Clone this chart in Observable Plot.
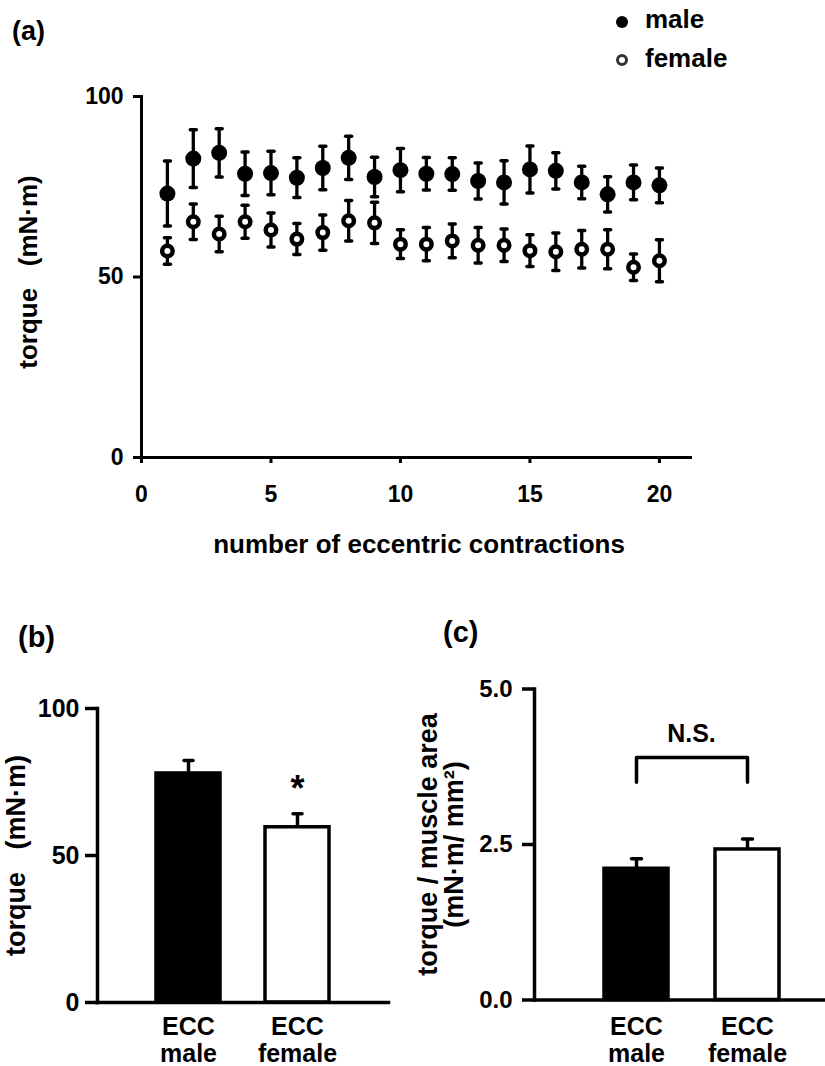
<!DOCTYPE html>
<html>
<head>
<meta charset="utf-8">
<script src="https://cdn.jsdelivr.net/npm/d3@7"></script>
<script src="https://cdn.jsdelivr.net/npm/@observablehq/plot@0.6"></script>
<style>
html, body { margin: 0; padding: 0; background: #fff; }
#root { position: relative; width: 825px; height: 1066px; overflow: hidden;
  font-family: "Liberation Sans", Arial, sans-serif; font-weight: bold; color: #000; }
.panel { position: absolute; }
.panel svg text { font-family: "Liberation Sans", Arial, sans-serif !important; font-weight: bold !important; }
.pa g[aria-label$="tick label"] { font-size: 23px !important; }
.pb g[aria-label$="tick label"] { font-size: 25px !important; }
.pc g[aria-label$="tick label"] { font-size: 24px !important; }
.pc g[aria-label="x-axis tick label"] { font-size: 25px !important; }
.plabel { position: absolute; line-height: 1; white-space: nowrap; }
.legtext { position: absolute; left: 645px; font-size: 26px; line-height: 1; }
.sw { position: absolute; box-sizing: border-box; width: 12px; height: 12px; border-radius: 50%; left: 616px; }
</style>
</head>
<body>
<div id="root">
  <div class="plabel" style="left:12px; top:18px; font-size:27px;">(a)</div>
  <div class="plabel" style="left:18px; top:623px; font-size:29px;">(b)</div>
  <div class="plabel" style="left:443px; top:618px; font-size:29px;">(c)</div>
  <div class="sw" style="top:16px; background:#000;"></div>
  <div class="legtext" style="top:6px;">male</div>
  <div class="sw" style="top:54px; border:3.5px solid #333; background:#fff;"></div>
  <div class="legtext" style="top:45px;">female</div>
</div>
<script>
// ---------- Panel (a): torque over repeated eccentric contractions ----------
const contractions = [1, 2, 3, 4, 5, 6, 7, 8, 9, 10, 11, 12, 13, 14, 15, 16, 17, 18, 19, 20];
const maleMean   = [73.1, 82.8, 84.4, 78.6, 78.8, 77.5, 80.2, 83.0, 77.7, 79.6, 78.6, 78.5, 76.6, 76.2, 79.8, 79.4, 76.2, 72.9, 76.2, 75.4];
const maleSem    = [9.0, 8.0, 6.7, 6.0, 6.0, 5.5, 6.0, 6.0, 5.5, 6.0, 4.5, 4.5, 5.0, 6.0, 6.5, 5.0, 4.5, 4.9, 4.8, 4.8];
const femaleMean = [57.2, 65.3, 61.9, 65.3, 63.0, 60.5, 62.3, 65.6, 65.0, 59.1, 59.1, 60.0, 58.8, 58.8, 57.3, 57.0, 57.7, 57.7, 52.7, 54.5];
const femaleSem  = [3.7, 4.9, 4.9, 4.6, 4.7, 4.3, 4.9, 5.6, 5.7, 4.0, 4.6, 4.7, 4.9, 4.5, 4.4, 5.2, 5.2, 5.4, 3.7, 5.8];
const xTicksA = [0, 5, 10, 15, 20];
const yTicksA = [0, 50, 100];

// ---------- Panel (b): torque ----------
const groups = ["ECC male", "ECC female"];
const torqueMean = [77.9, 59.6];
const torqueSem  = [4.4, 4.6];
const torqueSig  = ["", "*"];
const yTicksB = [0, 50, 100];

// ---------- Panel (c): torque / muscle area ----------
const areaMean = [2.11, 2.42];
const areaSem  = [0.16, 0.17];
const yTicksC = [0, 2.5, 5];
const nsLabel = "N.S.";
const nsBracketTop = 3.9;
const nsBracketLeg = 3.5;

const barColors = ["black", "white"];

const baseStyle = {
  fontFamily: "'Liberation Sans', Arial, sans-serif",
  fontWeight: "bold",
  color: "black",
  background: "transparent",
  overflow: "visible"
};

// horizontal cap used for error bars
const capSymbol = {
  draw(context, size) {
    const r = Math.sqrt(size / Math.PI);
    context.moveTo(-r, 0);
    context.lineTo(r, 0);
  }
};

const male = contractions.map((n, i) => ({n, mean: maleMean[i], sem: maleSem[i]}));
const female = contractions.map((n, i) => ({n, mean: femaleMean[i], sem: femaleSem[i]}));
const both = male.concat(female);

const plotA = Plot.plot({
  width: 825, height: 570,
  marginLeft: 141, marginRight: 135, marginTop: 96, marginBottom: 113,
  style: {...baseStyle, fontSize: "23px"},
  x: {domain: [0, 21.2]},
  y: {domain: [0, 100]},
  marks: [
    Plot.frame({anchor: "left", strokeWidth: 3}),
    Plot.frame({anchor: "bottom", strokeWidth: 3}),
    Plot.axisY({ticks: yTicksA, tickSize: 8, tickPadding: 10, strokeWidth: 3, label: null, fontSize: 23, fontWeight: "bold"}),
    Plot.axisX({ticks: xTicksA, tickSize: 6, tickPadding: 22, strokeWidth: 3, label: null, fontSize: 23, fontWeight: "bold"}),
    Plot.text(["number of eccentric contractions"], {frameAnchor: "bottom", textAnchor: "middle", dy: 95, dx: 3, fontSize: 26}),
    Plot.text(["torque\u00a0\u00a0\u00a0(mN\u00b7m)"], {frameAnchor: "left", textAnchor: "middle", rotate: -90, dx: -113, dy: -5, fontSize: 26}),
    Plot.ruleX(both, {x: "n", y1: d => d.mean - d.sem, y2: d => d.mean + d.sem, stroke: "black", strokeWidth: 3.3}),
    Plot.dot(both, {x: "n", y: d => d.mean + d.sem, symbol: capSymbol, r: 3, fill: "none", stroke: "black", strokeWidth: 3.5, strokeLinecap: "round"}),
    Plot.dot(both, {x: "n", y: d => d.mean - d.sem, symbol: capSymbol, r: 3, fill: "none", stroke: "black", strokeWidth: 3.5, strokeLinecap: "round"}),
    Plot.dot(male, {x: "n", y: "mean", r: 8, fill: "black", stroke: "none"}),
    Plot.dot(female, {x: "n", y: "mean", r: 5.25, fill: "white", stroke: "black", strokeWidth: 4.5})
  ]
});

const rowsB = groups.map((g, i) => ({group: g, mean: torqueMean[i], sem: torqueSem[i], sig: torqueSig[i]}));
const plotB = Plot.plot({
  width: 400, height: 466,
  marginLeft: 97, marginRight: 12, marginTop: 108, marginBottom: 64,
  style: {...baseStyle, fontSize: "25px"},
  x: {domain: groups, paddingInner: 0.413, paddingOuter: 0.54, align: 0.5},
  y: {domain: [0, 100]},
  color: {domain: groups, range: barColors},
  marks: [
    Plot.barY(rowsB, {x: "group", y: "mean", fill: "group", stroke: "black", strokeWidth: 3.5}),
    Plot.ruleX(rowsB, {x: "group", y1: "mean", y2: d => d.mean + d.sem, stroke: "black", strokeWidth: 3.5}),
    Plot.dot(rowsB, {x: "group", y: d => d.mean + d.sem, symbol: capSymbol, r: 4.5, fill: "none", stroke: "black", strokeWidth: 3.5, strokeLinecap: "round"}),
    Plot.text(rowsB, {x: "group", y: d => d.mean + d.sem, text: "sig", dy: -24, fontSize: 36}),
    Plot.frame({anchor: "left", strokeWidth: 3.5}),
    Plot.frame({anchor: "bottom", strokeWidth: 3.5}),
    Plot.axisY({ticks: yTicksB, tickSize: 12, tickPadding: 6, strokeWidth: 3.5, label: null, fontSize: 25, fontWeight: "bold"}),
    Plot.axisX({tickSize: 0, tickPadding: 13, tickFormat: d => d.replace(" ", "\n"), lineHeight: 1.08, label: null, fontSize: 25, fontWeight: "bold"}),
    Plot.text(["torque\u00a0\u00a0\u00a0(mN\u00b7m)"], {frameAnchor: "left", textAnchor: "middle", rotate: -90, dx: -81, fontSize: 27})
  ]
});

const rowsC = groups.map((g, i) => ({group: g, mean: areaMean[i], sem: areaSem[i]}));
const bracket = [
  {group: groups[0], y: nsBracketLeg},
  {group: groups[0], y: nsBracketTop},
  {group: groups[1], y: nsBracketTop},
  {group: groups[1], y: nsBracketLeg}
];
const plotC = Plot.plot({
  width: 425, height: 466,
  marginLeft: 134, marginRight: 0, marginTop: 88.5, marginBottom: 66.5,
  style: {...baseStyle, fontSize: "24px"},
  x: {domain: groups, paddingInner: 0.423, paddingOuter: 0.522, align: 0.6},
  y: {domain: [0, 5]},
  color: {domain: groups, range: barColors},
  marks: [
    Plot.barY(rowsC, {x: "group", y: "mean", fill: "group", stroke: "black", strokeWidth: 3.5}),
    Plot.ruleX(rowsC, {x: "group", y1: "mean", y2: d => d.mean + d.sem, stroke: "black", strokeWidth: 3.5}),
    Plot.dot(rowsC, {x: "group", y: d => d.mean + d.sem, symbol: capSymbol, r: 5, fill: "none", stroke: "black", strokeWidth: 3.5, strokeLinecap: "round"}),
    Plot.line(bracket, {x: "group", y: "y", stroke: "black", strokeWidth: 3.5, curve: "linear"}),
    Plot.text([nsLabel], {x: () => groups[0], y: () => nsBracketTop, dx: 55, dy: -23, fontSize: 25}),
    Plot.frame({anchor: "left", strokeWidth: 3.5}),
    Plot.frame({anchor: "bottom", strokeWidth: 3.5}),
    Plot.axisY({ticks: yTicksC, tickFormat: d3.format(".1f"), tickSize: 12, tickPadding: 10, strokeWidth: 3.5, label: null, fontSize: 24, fontWeight: "bold"}),
    Plot.axisX({tickSize: 0, tickPadding: 15, tickFormat: d => d.replace(" ", "\n"), lineHeight: 1.1, label: null, fontSize: 25, fontWeight: "bold"}),
    Plot.text(["torque / muscle area\n(mN\u00b7m/ mm\u00b2)"], {frameAnchor: "left", textAnchor: "middle", rotate: -90, dx: -93, fontSize: 27, lineHeight: 0.96})
  ]
});

const root = document.getElementById("root");
function place(node, left, top, cls) {
  const wrap = document.createElement("div");
  wrap.className = "panel " + cls;
  wrap.style.left = left + "px";
  wrap.style.top = top + "px";
  wrap.appendChild(node);
  root.insertBefore(wrap, root.firstChild);
}
place(plotA, 0, 0, "pa");
place(plotB, 0, 600, "pb");
place(plotC, 400, 600, "pc");
</script>
</body>
</html>
